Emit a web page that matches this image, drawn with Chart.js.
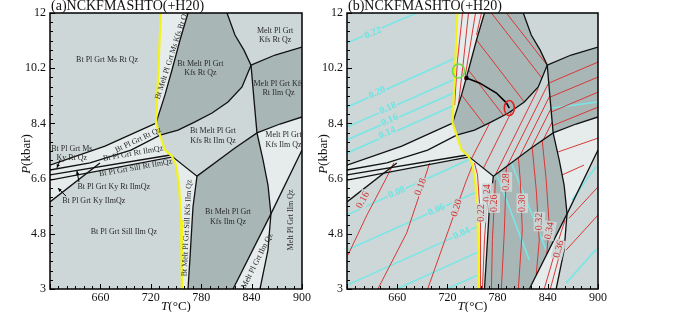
<!DOCTYPE html>
<html>
<head>
<meta charset="utf-8">
<script src="https://cdn.jsdelivr.net/npm/chart.js@4.4.1/dist/chart.umd.min.js"></script>
<style>
  html, body { margin: 0; padding: 0; background: #fff; }
  #wrap { position: relative; width: 700px; height: 312px; }
  canvas { position: absolute; left: 0; top: 0; }
</style>
</head>
<body>
<div id="wrap">
  <canvas id="pa" width="700" height="312"></canvas>
  <canvas id="pb" width="700" height="312"></canvas>
</div>
<script>
// axes
const tTicks = [660, 720, 780, 840, 900];
const pTicks = [3, 4.8, 6.6, 8.4, 10.2, 12];

// phase boundaries, [T (°C), P (kbar)]
const solidus = [[732,12],[730,10.8],[727.4,9.16],[726.2,8.41],[731,8.02],[737,7.53],[745,7.34],[750,7.04],[753.6,6.39],[756,5.25],[757,3.95],[757,3]];
const msOutMelt = [[764.3,12],[754.8,11.12],[745.2,10.14],[736.9,9.33],[726.2,8.41]];
const ilmIn = [[839.3,10.3],[828.6,9.59],[811.9,9.1],[792.9,8.74],[772.6,8.45],[752.4,8.18],[731,8.02],[696.4,7.53],[647.6,7.11],[600,6.88]];
const msOutSub = [[726.2,8.41],[665.5,7.66],[600,7.04]];
const sillLine = [[600,6.72],[743.5,7.37]];
const rtOut = [[600,6.55],[746,7.31],[775,6.68],[820.2,7.6],[846.4,8.09],[873.8,8.38],[900,8.61]];
const kySill = [[600,5.84],[659.5,7.11]];
const kfsIn = [[775,6.68],[770.2,5.67],[766.7,4.04],[764.3,3]];
const btOut = [[810.7,12],[820.2,11.28],[830.9,10.79],[839.3,10.3],[842.9,9.16],[846.4,8.09],[853.6,7.21],[859.5,6.39],[863,5.45],[859.5,4.27],[850,3]];
const kfsOut = [[817.9,3],[863,5.45],[900,7.53]];
const rtOutHi = [[839.3,10.3],[867.9,10.63],[900,10.89]];

// fields
const fieldDark1 = [[764.3,12],[754.8,11.12],[745.2,10.14],[736.9,9.33],[726.2,8.41],[731,8.02],[752.4,8.18],[772.6,8.45],[792.9,8.74],[811.9,9.1],[828.6,9.59],[839.3,10.3],[830.9,10.79],[820.2,11.28],[810.7,12]];
const fieldDark2 = [[839.3,10.3],[867.9,10.63],[900,10.89],[900,8.61],[873.8,8.38],[846.4,8.09],[842.9,9.16]];
const fieldDark3 = [[775,6.68],[820.2,7.6],[846.4,8.09],[853.6,7.21],[859.5,6.39],[863,5.45],[817.9,3],[764.3,3],[766.7,4.04],[770.2,5.67]];
const fieldPale1 = [[732,12],[730,10.8],[727.4,9.16],[726.2,8.41],[736.9,9.33],[745.2,10.14],[754.8,11.12],[764.3,12]];
const fieldPale2 = [[746,7.31],[750,7.04],[753.6,6.39],[756,5.25],[757,3.95],[757,3],[764.3,3],[766.7,4.04],[770.2,5.67],[775,6.68]];
const fieldPale3 = [[817.9,3],[863,5.45],[859.5,4.27],[850,3]];
const fieldPale4 = [[846.4,8.09],[853.6,7.21],[859.5,6.39],[863,5.45],[900,7.53],[900,8.61],[873.8,8.38]];
const fieldPale5 = [[726.2,8.41],[665.5,7.66],[600,7.04],[600,6.55],[746,7.31],[745,7.34],[737,7.53],[731,8.02]];
const fieldPale6 = [[600,6.55],[600,5.84],[644,6.78]];

const fieldNames = [
  {t:668, p:10.47, text:'Bt Pl Grt Ms Rt Qz', rot:0},
  {t:745, p:10.63, text:'Bt Melt Pl Grt Ms Kfs Rt Qz', rot:-72},
  {t:779, p:10.2, text:'Bt Melt Pl Grt\nKfs Rt Qz', rot:0},
  {t:868, p:11.28, text:'Melt Pl Grt\nKfs Rt Qz', rot:0},
  {t:872, p:9.55, text:'Melt Pl Grt Kfs\nRt Ilm Qz', rot:0},
  {t:794, p:7.99, text:'Bt Melt Pl Grt\nKfs Rt Ilm Qz', rot:0},
  {t:878, p:7.86, text:'Melt Pl Grt\nKfs Ilm Qz', rot:0},
  {t:705, p:7.86, text:'Bt Pl Grt Rt Qz', rot:-25},
  {t:626, p:7.43, text:'Bt Pl Grt Ms\nKy Rt Qz', rot:0},
  {t:699, p:7.42, text:'Bt Pl Grt Rt IlmQz', rot:-10},
  {t:702, p:6.95, text:'Bt Pl Grt Sill Rt IlmQz', rot:-10},
  {t:676, p:6.33, text:'Bt Pl Grt Ky Rt IlmQz', rot:0},
  {t:652, p:5.87, text:'Bt Pl Grt Ky IlmQz', rot:0},
  {t:688, p:4.86, text:'Bt Pl Grt Sill Ilm Qz', rot:0},
  {t:763, p:4.99, text:'Bt Melt Pl Grt Sill Kfs Ilm Qz', rot:-87},
  {t:812, p:5.35, text:'Bt Melt Pl Grt\nKfs Ilm Qz', rot:0},
  {t:844, p:3.78, text:'Bt Melt Pl Grt Ilm Qz', rot:-63},
  {t:887, p:5.25, text:'Melt Pl Grt Ilm Qz', rot:-90}
];
const pointers = [
  [[612,7.21],[608.3,6.95]],
  [[634.5,6.49],[632.1,6.85]],
  [[619,6.03],[609.5,6.29]]
];

// isopleths (panel b), red
const red016 = [[601.2,4.11],[623.8,5.41],[647.6,6.65],[656,7.11]];
const red018 = [[636.9,3],[671.4,4.83],[684.5,5.9],[698.8,7.11]];
const red020 = [[696.4,3],[728.6,5.48],[742.9,6.55],[750,7.04]];
const red022 = [[759.5,3],[759.5,5.35],[756,6.72],[752.4,7.11]];
const red024 = [[761.9,3],[764.3,4.6],[769,6.39]];
const red026 = [[772.6,3],[773.8,4.6],[777.4,6.55]];
const red028 = [[784.5,3],[788.1,4.92],[790.5,6.98]];
const red030 = [[804.8,3],[809.5,4.92],[807.1,6.55],[804.8,7.3]];
const red032 = [[826.2,3.46],[829.8,4.6],[826.2,6.23],[821.4,7.6]];
const red034 = [[838.7,4.14],[841.7,5.09],[838.1,6.55],[833.3,7.86]];
const red036 = [[835.7,3],[847.6,4.11],[856,4.86],[860.7,5.25]];
const red038 = [[843,3],[852.4,3.95],[858.3,4.6]];
const redHiA = [[865.5,5.31],[900,6.33]];
const redHiB = [[861.9,4.27],[900,5.41]];
const redHiC = [[852.4,7.47],[900,7.92]];
const redHiD = [[857.1,6.72],[883.3,7.04]];
const redHiE = [[841.7,9.72],[900,10.4]];
const redHiF = [[842.9,9.26],[900,9.91]];
const redHiG = [[844,8.77],[900,9.42]];
const redHiH = [[845.2,8.32],[900,8.93]];
const redMs1 = [[790.5,12],[838.1,10.34]];
const redMs2 = [[772.6,12],[832.9,9.88]];
const redMs3 = [[754.8,11.12],[811.9,9.1]];
const redMs4 = [[745.2,10.14],[786.9,8.66]];
const redMs5 = [[736.9,9.33],[764.3,8.35]];
const redSt1 = [[738.1,12],[732.1,10.47],[728.6,9.0]];
const redSt2 = [[745.2,12],[739.3,10.47],[733.3,9.03]];
const redSt3 = [[753.6,12],[746.4,10.79],[740.5,9.82]];
const redSt4 = [[760.7,12],[754.8,11.28]];
const redIl1 = [[748.8,7.25],[770,8.38]];
const redIl2 = [[763.1,6.94],[797.5,8.83]];
const redIl3 = [[777.4,6.73],[828.6,9.54]];
const redIl4 = [[791.7,7.02],[840.8,9.71]];
const redIl5 = [[806,7.3],[842.4,9.3]];
const redIl6 = [[820.2,7.6],[843.8,8.88]];
const redIl7 = [[834.5,7.86],[845.2,8.45]];
const redSets = [red016,red018,red020,red022,red024,red026,red028,red030,red032,red034,red036,red038,
  redHiA,redHiB,redHiC,redHiD,redHiE,redHiF,redHiG,redHiH,redMs1,redMs2,redMs3,redMs4,redMs5,
  redSt1,redSt2,redSt3,redSt4,redIl1,redIl2,redIl3,redIl4,redIl5,redIl6,redIl7];
const redNames = [
  {t:619, p:5.9, text:'0.16', rot:-62},
  {t:688, p:6.33, text:'0.18', rot:-70},
  {t:731, p:5.64, text:'0.20', rot:-72},
  {t:760.7, p:5.48, text:'0.22', rot:-90},
  {t:767.9, p:6.13, text:'0.24', rot:-90},
  {t:776, p:5.8, text:'0.26', rot:-90},
  {t:790.5, p:6.49, text:'0.28', rot:-90},
  {t:809.5, p:5.8, text:'0.30', rot:-90},
  {t:830, p:5.2, text:'0.32', rot:-90},
  {t:842, p:4.9, text:'0.34', rot:-80},
  {t:853, p:4.3, text:'0.36', rot:-75}
];

// isopleths (panel b), cyan
const cyan022 = [[600,11.02],[663.1,11.77],[683.3,12]];
const cyan020 = [[600,8.93],[729.8,10.53]];
const cyan018 = [[600,8.28],[727.4,9.82]];
const cyan016 = [[600,7.86],[727.4,9.39]];
const cyan014 = [[600,7.43],[726.2,8.97]];
const cyan008 = [[600,5.41],[750,7.27]];
const cyan006 = [[600,4.27],[754.8,6.16]];
const cyan004 = [[600,3.13],[757.1,5.05]];
const cyan003 = [[659.5,3],[757.1,4.21]];
const cyan002 = [[719,3],[757.1,3.46]];
const cyanKf1 = [[778.6,6.75],[817.9,3.95]];
const cyanKf2 = [[796.4,7.11],[838.1,4.27]];
const cyanHi1 = [[869,5.9],[898,7.0]];
const cyanHi2 = [[862,3.2],[898,4.3]];
const cyanHi3 = [[845,8.9],[900,9.1]];
const cyanSets = [cyan022,cyan020,cyan018,cyan016,cyan014,cyan008,cyan006,cyan004,cyan003,cyan002,
  cyanKf1,cyanKf2,cyanHi1,cyanHi2,cyanHi3];
const cyanNames = [
  {t:631, p:11.35, text:'0.22', rot:-24},
  {t:636, p:9.4, text:'0.20', rot:-24},
  {t:649, p:8.9, text:'0.18', rot:-24},
  {t:651, p:8.51, text:'0.16', rot:-24},
  {t:648, p:8.09, text:'0.14', rot:-24},
  {t:659.5, p:6.15, text:'0.08', rot:-24},
  {t:707, p:5.58, text:'0.06', rot:-24},
  {t:737, p:4.81, text:'0.04', rot:-24}
];

const reactionPath = [[742.9,9.88],[758.3,9.72],[778.6,9.39],[790.5,9.07],[794,8.9]];
const pathStart = [742.9, 9.88];
const greenMark = [733.3, 10.11];
const redMark = [794, 8.9];

// ---- colours
const BASE = '#cdd7d7', DARK = '#a9b6b6', PALE = '#e6ecec';
const SERIF = '"Liberation Serif", "DejaVu Serif", serif';

function pts(a) { return a.map(q => ({x: q[0], y: q[1]})); }
function lineDs(a, color, w) {
  return {data: pts(a), showLine: true, pointRadius: 0, tension: 0, fill: false, borderColor: color, borderWidth: w};
}
function areaDs(a, color) {
  return {data: pts(a), showLine: true, pointRadius: 0, tension: 0, fill: 'shape',
    backgroundColor: color, borderColor: 'rgba(0,0,0,0)', borderWidth: 1};
}

function baseAreas() {
  return [
    areaDs(fieldDark1, DARK), areaDs(fieldDark2, DARK), areaDs(fieldDark3, DARK),
    areaDs(fieldPale1, PALE), areaDs(fieldPale2, PALE), areaDs(fieldPale3, PALE),
    areaDs(fieldPale4, PALE), areaDs(fieldPale5, PALE), areaDs(fieldPale6, PALE)
  ];
}
function baseLines() {
  return [msOutMelt, ilmIn, msOutSub, sillLine, rtOut, kySill, kfsIn, btOut, kfsOut, rtOutHi]
    .map(a => lineDs(a, '#111', 1.3))
    .concat([lineDs(solidus, '#f2f21e', 2.2)]);
}

function drawLabel(ctx, x, y, text, rot, font, color, bg) {
  ctx.save();
  ctx.translate(x, y);
  ctx.rotate(rot * Math.PI / 180);
  ctx.font = font;
  ctx.textAlign = 'center';
  ctx.textBaseline = 'middle';
  const rows = text.split('\n');
  const lh = parseFloat(font.replace('bold ', '')) * 1.15;
  if (bg) {
    const w = Math.max(...rows.map(r => ctx.measureText(r).width));
    ctx.fillStyle = bg;
    ctx.fillRect(-w / 2 - 1, -lh * rows.length / 2, w + 2, lh * rows.length);
  }
  ctx.fillStyle = color;
  rows.forEach((r, i) => ctx.fillText(r, 0, (i - (rows.length - 1) / 2) * lh));
  ctx.restore();
}

function decor(panel) {
  return {
    id: 'decor' + panel,
    beforeDatasetsDraw(chart) {
      const {ctx, chartArea: a} = chart;
      ctx.save();
      ctx.fillStyle = BASE;
      ctx.fillRect(a.left, a.top, a.right - a.left, a.bottom - a.top);
      ctx.restore();
    },
    afterDatasetsDraw(chart) {
      const {ctx, chartArea: a, scales: {x, y}} = chart;
      const X = v => x.getPixelForValue(v), Y = v => y.getPixelForValue(v);
      ctx.save();
      ctx.beginPath();
      ctx.rect(a.left, a.top, a.right - a.left, a.bottom - a.top);
      ctx.clip();
      if (panel === 'a') {
        fieldNames.forEach(l => drawLabel(ctx, X(l.t), Y(l.p), l.text, l.rot, '8px ' + SERIF, '#2a2a2a'));
        ctx.strokeStyle = '#000'; ctx.fillStyle = '#000'; ctx.lineWidth = 1;
        pointers.forEach(([s, e]) => {
          const x0 = X(s[0]), y0 = Y(s[1]), x1 = X(e[0]), y1 = Y(e[1]);
          ctx.beginPath(); ctx.moveTo(x0, y0); ctx.lineTo(x1, y1); ctx.stroke();
          const ang = Math.atan2(y1 - y0, x1 - x0);
          ctx.beginPath();
          ctx.moveTo(x1, y1);
          ctx.lineTo(x1 - 4 * Math.cos(ang - 0.45), y1 - 4 * Math.sin(ang - 0.45));
          ctx.lineTo(x1 - 4 * Math.cos(ang + 0.45), y1 - 4 * Math.sin(ang + 0.45));
          ctx.closePath(); ctx.fill();
        });
      } else {
        redNames.forEach(l => drawLabel(ctx, X(l.t), Y(l.p), l.text, l.rot, '10px ' + SERIF, '#d03030', 'rgba(205,215,215,0.9)'));
        cyanNames.forEach(l => drawLabel(ctx, X(l.t), Y(l.p), l.text, l.rot, 'bold 10px ' + SERIF, '#6fe3e3', 'rgba(205,215,215,0.9)'));
        ctx.lineWidth = 1.6;
        ctx.strokeStyle = '#6ddc4a';
        ctx.beginPath(); ctx.ellipse(X(greenMark[0]), Y(greenMark[1]), 6, 7, 0, 0, 2 * Math.PI); ctx.stroke();
        ctx.strokeStyle = '#e02020';
        ctx.beginPath(); ctx.ellipse(X(redMark[0]), Y(redMark[1]), 5, 7.5, 0, 0, 2 * Math.PI); ctx.stroke();
      }
      ctx.restore();

      // frame and inward ticks
      ctx.save();
      ctx.strokeStyle = '#000';
      ctx.lineWidth = 1.5;
      ctx.strokeRect(a.left, a.top, a.right - a.left, a.bottom - a.top);
      ctx.lineWidth = 1;
      ctx.beginPath();
      for (let v = 600; v <= 900; v += 10) {
        const px = Math.round(X(v)) + 0.5;
        const len = (v % 60 === 0) ? 5 : 3;
        ctx.moveTo(px, a.bottom); ctx.lineTo(px, a.bottom - len);
      }
      for (let i = 0; i <= 30; i++) {
        const py = Math.round(Y(3 + i * 0.3)) + 0.5;
        const len = (i % 6 === 0) ? 5 : 3;
        ctx.moveTo(a.left, py); ctx.lineTo(a.left + len, py);
      }
      ctx.stroke();

      // titles
      ctx.fillStyle = '#111';
      ctx.textBaseline = 'alphabetic';
      ctx.textAlign = 'left';
      ctx.font = '14px ' + SERIF;
      ctx.fillText('(' + panel + ')NCKFMASHTO(+H20)', a.left + 1, 10);

      ctx.font = 'italic 13px ' + SERIF;
      const wT = ctx.measureText('T').width;
      ctx.font = '13px ' + SERIF;
      const wU = ctx.measureText('(°C)').width;
      const cx = (a.left + a.right) / 2 - (wT + wU) / 2;
      ctx.font = 'italic 13px ' + SERIF; ctx.fillText('T', cx, 310);
      ctx.font = '13px ' + SERIF; ctx.fillText('(°C)', cx + wT, 310);

      ctx.translate(a.left - 20, 154);
      ctx.rotate(-Math.PI / 2);
      ctx.font = 'italic 13px ' + SERIF;
      const wP = ctx.measureText('P').width;
      ctx.font = '13px ' + SERIF;
      const wK = ctx.measureText('(kbar)').width;
      ctx.font = 'italic 13px ' + SERIF; ctx.fillText('P', -(wP + wK) / 2, 0);
      ctx.font = '13px ' + SERIF; ctx.fillText('(kbar)', -(wP + wK) / 2 + wP, 0);
      ctx.restore();
    }
  };
}

function makeChart(id, panel, datasets, padLeft, padRight) {
  datasets.forEach((d, i) => { d.order = datasets.length - i; });
  return new Chart(document.getElementById(id), {
    type: 'scatter',
    data: {datasets},
    options: {
      responsive: false,
      animation: false,
      events: [],
      layout: {padding: {left: padLeft, right: padRight, top: 13, bottom: 0}},
      plugins: {legend: {display: false}, tooltip: {enabled: false}},
      scales: {
        x: {
          type: 'linear', min: 600, max: 900,
          afterBuildTicks: s => { s.ticks = tTicks.map(v => ({value: v})); },
          afterFit: s => { s.height = 23; },
          grid: {display: false, drawTicks: false}, border: {display: false},
          ticks: {color: '#111', font: {family: SERIF, size: 12}, padding: 2, maxRotation: 0, autoSkip: false}
        },
        y: {
          type: 'linear', min: 3, max: 12,
          afterBuildTicks: s => { s.ticks = pTicks.map(v => ({value: v})); },
          afterFit: s => { s.width = 50; },
          grid: {display: false, drawTicks: false}, border: {display: false},
          ticks: {color: '#111', font: {family: SERIF, size: 12}, padding: 4, autoSkip: false,
            callback: v => String(v)}
        }
      }
    },
    plugins: [decor(panel)]
  });
}

// panel (a)
makeChart('pa', 'a', baseAreas().concat(baseLines()), 0, 398);

// panel (b)
const dsB = baseAreas()
  .concat(cyanSets.map(a => lineDs(a, '#7ae6e6', 1.6)))
  .concat(redSets.map(a => lineDs(a, '#d83838', 1)))
  .concat(baseLines())
  .concat([lineDs(reactionPath, '#000', 1.6),
    {data: pts([pathStart]), showLine: false, pointRadius: 2.2, pointBackgroundColor: '#000', pointBorderWidth: 0}]);
makeChart('pb', 'b', dsB, 297, 102);
</script>
</body>
</html>
